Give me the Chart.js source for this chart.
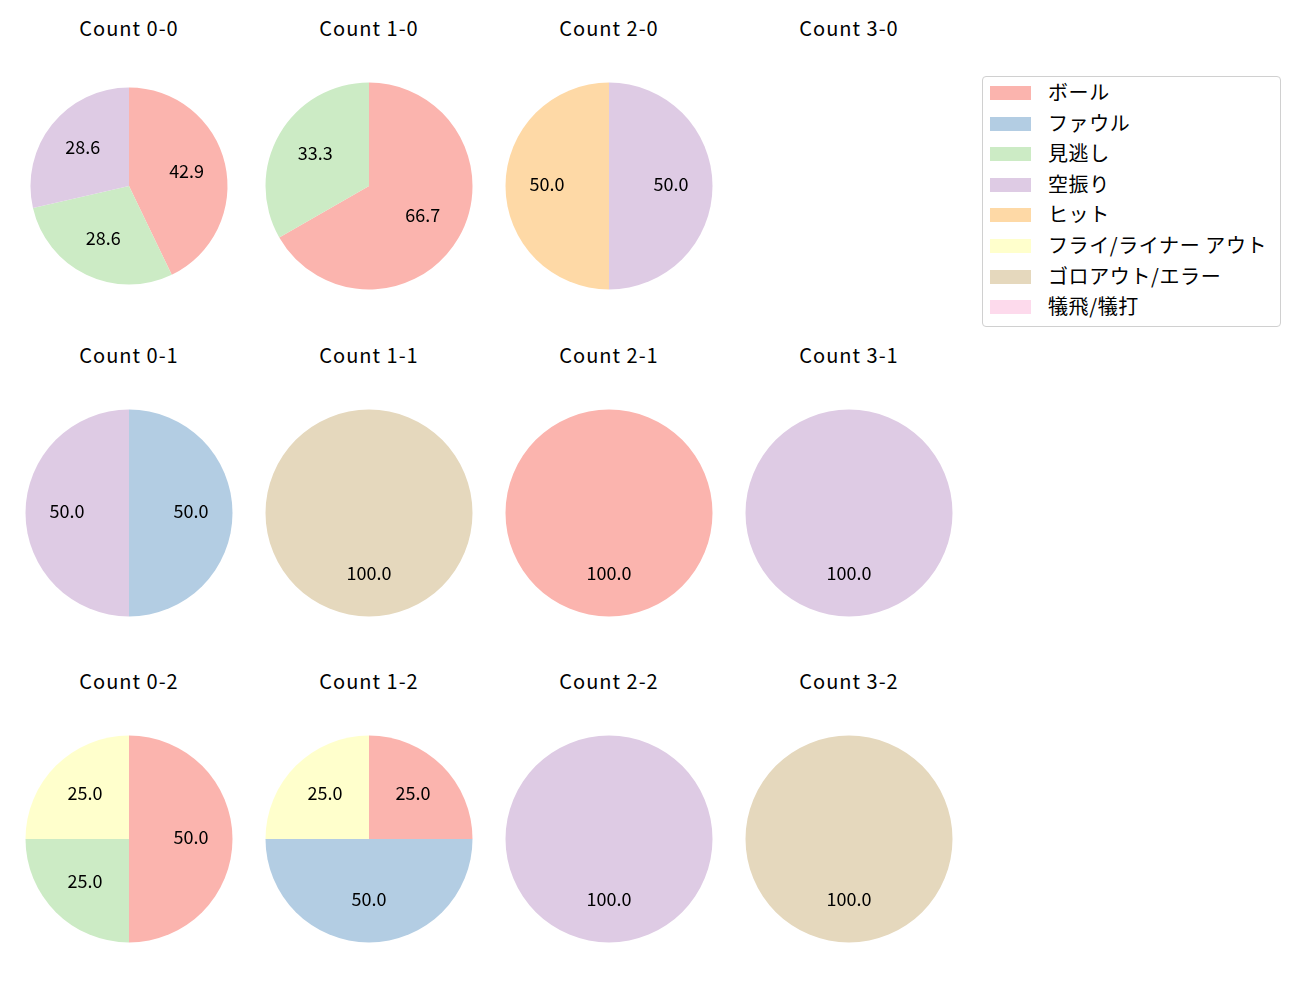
<!DOCTYPE html>
<html>
<head>
<meta charset="utf-8">
<script src="https://cdn.jsdelivr.net/npm/chart.js@4/dist/chart.umd.min.js"></script>
<style>
    body { margin: 0; background: #fff; font-family: "Noto Sans CJK JP", "Noto Sans", sans-serif; }
    #page { position: relative; width: 1300px; height: 1000px; }
    .title { position: absolute; width: 200px; text-align: center; font-size: 20px; letter-spacing: 1px; line-height: 20px; color: #000; }
    .cell { position: absolute; width: 230px; height: 230px; }
    #legend { position: absolute; left: 982px; top: 76px; width: 297px; height: 249px; border: 1px solid #d0d0d0; border-radius: 4px; }
    .item { position: absolute; left: 0; height: 20px; }
    .item span.patch { position: absolute; left: 7px; top: 3px; width: 41px; height: 14px; }
    .item span.label { position: absolute; left: 65px; top: -5px; white-space: nowrap; font-size: 20px; line-height: 28px; letter-spacing: 0.6px; }
</style>
</head>
<body>
<div id="page">
    <div id="legend"></div>
</div>
<script>
// Categories and colours
const categories = ['ボール', 'ファウル', '見逃し', '空振り', 'ヒット', 'フライ/ライナー アウト', 'ゴロアウト/エラー', '犠飛/犠打'];
const colors = ['#fbb4ae', '#b3cde3', '#ccebc5', '#decbe4', '#fed9a6', '#ffffcc', '#e5d8bd', '#fddaec'];

// Percentages per count, in category order
const count00 = [42.9, 0, 28.6, 28.6, 0, 0, 0, 0];
const count10 = [66.7, 0, 33.3, 0, 0, 0, 0, 0];
const count20 = [0, 0, 0, 50.0, 50.0, 0, 0, 0];
const count30 = [];
const count01 = [0, 50.0, 0, 50.0, 0, 0, 0, 0];
const count11 = [0, 0, 0, 0, 0, 0, 100.0, 0];
const count21 = [100.0, 0, 0, 0, 0, 0, 0, 0];
const count31 = [0, 0, 0, 100.0, 0, 0, 0, 0];
const count02 = [50.0, 0, 25.0, 0, 0, 25.0, 0, 0];
const count12 = [25.0, 50.0, 0, 0, 0, 25.0, 0, 0];
const count22 = [0, 0, 0, 100.0, 0, 0, 0, 0];
const count32 = [0, 0, 0, 0, 0, 0, 100.0, 0];

const panels = [
    { title: 'Count 0-0', data: count00, col: 0, row: 0, r: 98.5 },
    { title: 'Count 1-0', data: count10, col: 1, row: 0 },
    { title: 'Count 2-0', data: count20, col: 2, row: 0 },
    { title: 'Count 3-0', data: count30, col: 3, row: 0 },
    { title: 'Count 0-1', data: count01, col: 0, row: 1 },
    { title: 'Count 1-1', data: count11, col: 1, row: 1 },
    { title: 'Count 2-1', data: count21, col: 2, row: 1 },
    { title: 'Count 3-1', data: count31, col: 3, row: 1 },
    { title: 'Count 0-2', data: count02, col: 0, row: 2 },
    { title: 'Count 1-2', data: count12, col: 1, row: 2 },
    { title: 'Count 2-2', data: count22, col: 2, row: 2 },
    { title: 'Count 3-2', data: count32, col: 3, row: 2 }
];

const colX = [129, 369, 609, 849];
const rowY = [186, 512.5, 839];
const titleY = [28, 355, 681];

// Percent labels at 0.6 of the radius
const pctLabels = {
    id: 'pctLabels',
    afterDatasetsDraw(chart) {
        const ctx = chart.ctx;
        const meta = chart.getDatasetMeta(0);
        const values = chart.data.datasets[0].data;
        ctx.save();
        ctx.fillStyle = '#000';
        ctx.font = '18px "Noto Sans CJK JP", "Noto Sans", sans-serif';
        ctx.textAlign = 'center';
        ctx.textBaseline = 'middle';
        meta.data.forEach((arc, i) => {
            if (!values[i]) return;
            const p = arc.getProps(['x', 'y', 'startAngle', 'endAngle', 'outerRadius'], true);
            const mid = (p.startAngle + p.endAngle) / 2;
            const x = p.x + Math.cos(mid) * p.outerRadius * 0.6;
            const y = p.y + Math.sin(mid) * p.outerRadius * 0.6 - 1.5;
            ctx.fillText(values[i].toFixed(1), x, y);
        });
        ctx.restore();
    }
};

const page = document.getElementById('page');

panels.forEach(panel => {
    const cx = colX[panel.col];
    const cy = rowY[panel.row];

    const title = document.createElement('div');
    title.className = 'title';
    title.style.left = (cx - 100) + 'px';
    title.style.top = (titleY[panel.row] - 10) + 'px';
    title.textContent = panel.title;
    page.appendChild(title);

    if (!panel.data.length) return;

    const cell = document.createElement('div');
    cell.className = 'cell';
    cell.style.left = (cx - 115) + 'px';
    cell.style.top = (cy - 115) + 'px';
    const canvas = document.createElement('canvas');
    cell.appendChild(canvas);
    page.appendChild(cell);

    new Chart(canvas, {
        type: 'pie',
        data: {
            labels: categories,
            datasets: [{
                data: panel.data,
                backgroundColor: colors,
                borderWidth: 0
            }]
        },
        options: {
            responsive: true,
            maintainAspectRatio: false,
            animation: false,
            radius: panel.r || 103.5,
            plugins: {
                legend: { display: false },
                tooltip: { enabled: false }
            }
        },
        plugins: [pctLabels]
    });
});

// Legend
const legend = document.getElementById('legend');
categories.forEach((name, i) => {
    const item = document.createElement('div');
    item.className = 'item';
    item.style.top = (6 + i * 30.6) + 'px';
    item.innerHTML = '<span class="patch" style="background:' + colors[i] + '"></span><span class="label"></span>';
    item.querySelector('.label').textContent = name;
    legend.appendChild(item);
});
</script>
</body>
</html>
